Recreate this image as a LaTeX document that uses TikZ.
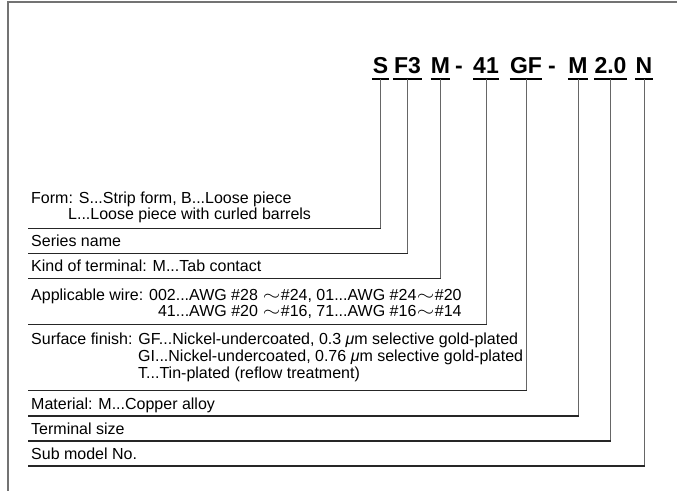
\documentclass[tikz,border=0pt]{standalone}
\usepackage{fontspec}
\usepackage{graphicx}
\setmainfont{Liberation Sans}
\newcommand\wavedash{\makebox[18.5pt]{\scalebox{1.3}[1]{$\sim$}}}
\begin{document}
\begin{tikzpicture}[x=1pt,y=-1pt,
  code/.style={font=\fontsize{23}{23}\selectfont\bfseries, inner sep=0pt, anchor=base, text depth=6pt},
  lbl/.style={font=\fontsize{16}{16}\selectfont, inner sep=0pt, anchor=base west, align=left},
  bar/.style={line width=1.5pt, black},
  hleader/.style={line width=1.1pt, black!85},
  vleader/.style={line width=1pt, black!60},
  frame/.style={line width=1.2pt, black!55}]
\useasboundingbox (0,0) rectangle (677,491);
\draw[frame] (677,2) -- (8,2) -- (8,491);
% code characters
\node[code, minimum width=17pt] (c1) at (380.5,73) {S};
\node[code, minimum width=29pt] (c2) at (407.5,73) {F3};
\node[code, minimum width=19pt] (c3) at (440.5,73) {M};
\node[code] (d1) at (459,73) {-};
\node[code, minimum width=25pt] (c4) at (486,73) {41};
\node[code, minimum width=28pt] (c5) at (526,73) {GF};
\node[code] (d2) at (552,73) {-};
\node[code, minimum width=20pt] (c6) at (578,73) {M};
\node[code, minimum width=33pt] (c7) at (610.5,73) {2.0};
\node[code, minimum width=18pt] (c8) at (644,73) {N};
\foreach \i in {1,...,8} {\draw[bar] (c\i.south west) -- (c\i.south east);}
% labels (base anchor = baseline of the last line)
\node[lbl] (l1) at (31,219.5) {Form: S...Strip form, B...Loose piece\\\hspace*{37pt}L...Loose piece with curled barrels};
\node[lbl] (l2) at (31,246) {Series name};
\node[lbl] (l3) at (31,271) {Kind of terminal: M...Tab contact};
\node[lbl, align=right] (l4) at (31,316.5) {Applicable wire: 002...AWG \#28 \wavedash\#24, 01...AWG \#24\wavedash\#20\\41...AWG \#20 \wavedash\#16, 71...AWG \#16\wavedash\#14};
\node[lbl, font=\fontsize{16}{17}\selectfont] (l5) at (31,378.5) {Surface finish: GF...Nickel-undercoated, 0.3 \textit{μ}m selective gold-plated\\\hspace*{107pt}GI...Nickel-undercoated, 0.76 \textit{μ}m selective gold-plated\\\hspace*{107pt}T...Tin-plated (reflow treatment)};
\node[lbl] (l6) at (31,409.5) {Material: M...Copper alloy};
\node[lbl] (l7) at (31,434.5) {Terminal size};
\node[lbl] (l8) at (31,459.5) {Sub model No.};
% leader line starts
\coordinate (h1) at (28,228.5);
\coordinate (h2) at (28,253.5);
\coordinate (h3) at (28,278.5);
\coordinate (h4) at (28,324.5);
\coordinate (h5) at (28,390.5);
\coordinate (h6) at (28,416);
\coordinate (h7) at (28,441);
\coordinate (h8) at (28,466);
\foreach \i in {1,...,8} {
  \draw[vleader] (c\i.south) -- (c\i.south |- h\i);
  \draw[hleader] (h\i) -- ([xshift=0.5pt]c\i.south |- h\i);
}
\end{tikzpicture}
\end{document}
